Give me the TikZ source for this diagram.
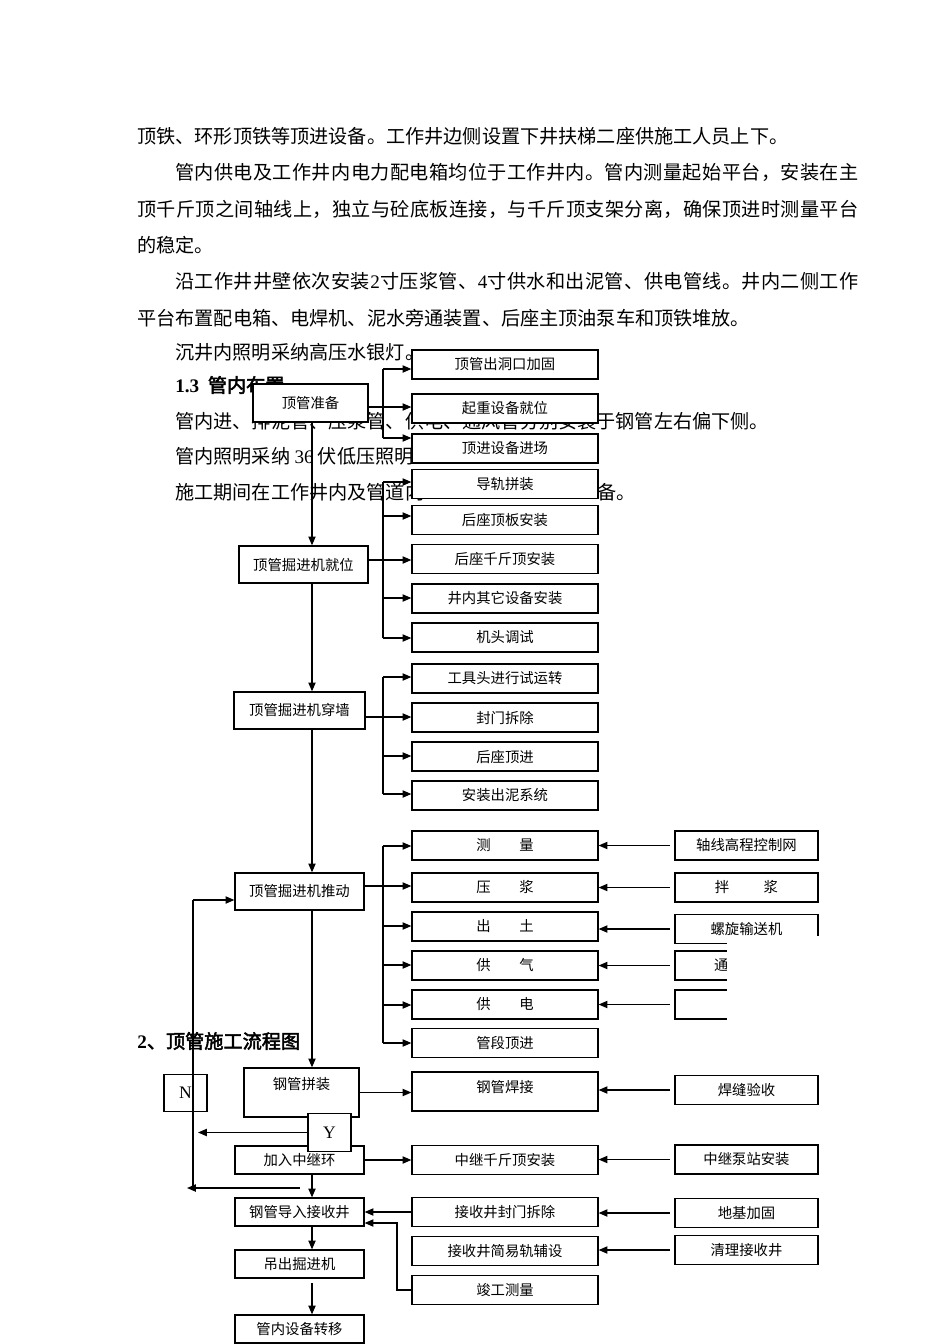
\documentclass[tikz,border=0pt]{standalone}
\usepackage{fontspec}
\setmainfont{Noto Sans CJK SC}[AutoFakeBold=2.5]
\newfontfamily\lat{Liberation Serif}
\usetikzlibrary{arrows.meta}
\newlength\pxu
\setlength\pxu{0.6266pt}
\makeatletter
\newcommand\spreadline[2]{\makebox[#1][s]{\@tfor\spch:=#2\do{{\spch}\hskip 0pt plus 1pt}\unskip}}
\makeatother

\begin{document}
\begin{tikzpicture}[
  x=0.6266pt, y=-0.6266pt,
  para/.style={anchor=west, inner sep=0pt, font=\fontsize{12}{14}\selectfont},
  head/.style={para, font=\fontsize{12}{14}\selectfont\bfseries},
  box/.style={draw, fill=white, line width=0.8pt, inner sep=1pt, font=\fontsize{9}{11}\selectfont},
  mid/.style={box, minimum width=116.5pt, minimum height=18.2pt},
  side/.style={box, minimum width=89.6pt, minimum height=18.2pt},
  main/.style={box, minimum width=80.8pt, minimum height=23.2pt},
  low/.style={box, minimum width=80.8pt, minimum height=17.5pt},
  yn/.style={box, font=\lat\fontsize{11}{13}\selectfont, minimum width=26.9pt, minimum height=23.5pt},
  link/.style={line width=0.8pt},
  arr/.style={link, -{Triangle[length=5.5pt,width=4.5pt]}}
]
\fill[white] (0,0) rectangle (950,1344);
\useasboundingbox (0,0) rectangle (950,1344);

\node[para] (t1) at (137,136) {顶铁、环形顶铁等顶进设备。工作井边侧设置下井扶梯二座供施工人员上下。};
\node[para] (t2) at (175,172) {\spreadline{683\pxu}{管内供电及工作井内电力配电箱均位于工作井内。管内测量起始平台，安装在主}};
\node[para] (t3) at (137,209) {\spreadline{721\pxu}{顶千斤顶之间轴线上，独立与砼底板连接，与千斤顶支架分离，确保顶进时测量平台}};
\node[para] (t4) at (137,245) {的稳定。};
\node[para] (t5) at (175,281) {\spreadline{683\pxu}{沿工作井井壁依次安装{\lat 2}寸压浆管、{\lat 4}寸供水和出泥管、供电管线。井内二侧工作}};
\node[para] (t6) at (137,318) {平台布置配电箱、电焊机、泥水旁通装置、后座主顶油泵车和顶铁堆放。};
\node[para] (t7) at (175,352) {沉井内照明采纳高压水银灯。};
\node[head] (t8) at (175,385) {{\lat 1.3}\hspace{0.45em}管内布置};
\node[para] (t9) at (175,421) {管内进、排泥管、压浆管、供电、通风管分别安装于钢管左右偏下侧。};
\node[para] (t10) at (175,456) {管内照明采纳 {\lat 36} 伏低压照明};
\node[para] (t11) at (175,492) {施工期间在工作井内及管道内};
\node[para] (t12) at (597,492) {备。};
\node[head] (t13) at (137,1041) {{\lat 2}、顶管施工流程图};

\node[main, minimum width=72.1pt, minimum height=23.8pt] (l1) at (310.5,403) {顶管准备};
\node[main] (l2) at (303.5,564.5) {顶管掘进机就位};
\node[main, minimum width=82.1pt] (l3) at (299.5,710.5) {顶管掘进机穿墙};
\node[main] (l4) at (299.5,891.5) {顶管掘进机推动};
\node[main, minimum width=72.1pt, minimum height=30.7pt, text depth=11pt] (l5) at (301.5,1092.5) {钢管拼装};
\node[low] (l6) at (299.5,1160) {加入中继环};
\node[low] (l7) at (299.5,1212) {钢管导入接收井};
\node[low] (l8) at (299.5,1264) {吊出掘进机};
\node[low] (l9) at (299.5,1329) {管内设备转移};
\node[yn] (no) at (185.5,1093) {N};
\node[yn] (yes) at (329.5,1132.5) {Y};

\node[mid] (m1) at (505,364.5) {顶管出洞口加固};
\node[mid] (m2) at (505,408.5) {起重设备就位};
\node[mid] (m3) at (505,448.5) {顶进设备进场};
\node[mid] (m4) at (505,484) {导轨拼装};
\node[mid] (m5) at (505,520) {后座顶板安装};
\node[mid] (m6) at (505,559) {后座千斤顶安装};
\node[mid] (m7) at (505,598.5) {井内其它设备安装};
\node[mid] (m8) at (505,637.5) {机头调试};
\node[mid] (m9) at (505,678.5) {工具头进行试运转};
\node[mid] (m10) at (505,717.5) {封门拆除};
\node[mid] (m11) at (505,756.5) {后座顶进};
\node[mid] (m12) at (505,795.5) {安装出泥系统};
\node[mid] (m13) at (505,845.5) {测\hspace{2em}量};
\node[mid] (m14) at (505,887.5) {压\hspace{2em}浆};
\node[mid] (m15) at (505,926.5) {出\hspace{2em}土};
\node[mid] (m16) at (505,965.5) {供\hspace{2em}气};
\node[mid] (m17) at (505,1004.5) {供\hspace{2em}电};
\node[mid] (m18) at (505,1043) {管段顶进};
\node[mid, minimum height=24.4pt, text depth=6pt] (m19) at (505,1091.5) {钢管焊接};
\node[mid] (m20) at (505,1160) {中继千斤顶安装};
\node[mid] (m21) at (505,1212) {接收井封门拆除};
\node[mid] (m22) at (505,1251) {接收井简易轨辅设};
\node[mid] (m23) at (505,1290) {竣工测量};

\node[side] (r1) at (746.5,845.5) {轴线高程控制网};
\node[side] (r2) at (746.5,887.5) {拌\hspace{2.4em}浆};
\node[side] (r3) at (746.5,929) {螺旋输送机};
\node[side] (r4) at (746.5,965.5) {\makebox[4.5em][l]{通}};
\node[side] (r5) at (746.5,1004.5) {};
\node[side] (r6) at (746.5,1090) {焊缝验收};
\node[side] (r7) at (746.5,1159.5) {中继泵站安装};
\node[side] (r8) at (746.5,1213) {地基加固};
\node[side] (r9) at (746.5,1250) {清理接收井};

\coordinate (sp) at (312,0);
\foreach \a/\b in {l1/l2, l2/l3, l3/l4, l4/l5, l6/l7, l7/l8}
  \draw[arr] (\a.south -| sp) -- (\b.north -| sp);
\draw[arr, shorten <=3pt] (l8.south -| sp) -- (l9.north -| sp);

\draw[link] (l1.east |- 0,407) -- (383,407);
\draw[link] (383,369) -- (383,438);
\foreach \n/\y in {m1/369, m2/407, m3/438}
  \draw[arr] (383,\y) -- (\n.west |- 0,\y);

\draw[link] (l2.east |- 0,560) -- (383,560);
\draw[link] (383,482) -- (383,638);
\foreach \n/\y in {m4/482, m5/516, m6/560, m7/598, m8/638}
  \draw[arr] (383,\y) -- (\n.west |- 0,\y);

\draw[link] (l3.east |- 0,717) -- (383,717);
\draw[link] (383,677) -- (383,794);
\foreach \n/\y in {m9/677, m10/717, m11/756, m12/794}
  \draw[arr] (383,\y) -- (\n.west |- 0,\y);

\draw[link] (l4.east |- 0,886) -- (383,886);
\draw[link] (383,846) -- (383,1043);
\foreach \n/\y in {m13/846, m14/886, m15/926, m16/965, m17/1005, m18/1043}
  \draw[arr] (383,\y) -- (\n.west |- 0,\y);

\foreach \r/\m in {r1/m13, r2/m14, r3/m15, r4/m16, r5/m17, r6/m19, r7/m20, r8/m21, r9/m22}
  \draw[arr, shorten <=3pt] (\r.west) -- (\r.west -| \m.east);

\draw[arr] (l5.east) -- (l5.east -| m19.west);
\draw[arr] (l6.east) -- (l6.east -| m20.west);
\draw[arr] (m21.west) -- (m21.west -| l7.east);
\draw[arr] (m23.west) -| (397,1223) -- (l7.east |- 0,1223);

\draw[arr] (193,900) -- (l4.west |- 0,900);
\draw[link] (193,900) -- (193,1188);
\draw[arr] (300,1188) -- (187,1188);
\draw[arr] (yes.west) -- (yes.west -| 198,0);

\fill[white] (727,936) rectangle (832,1023);
\end{tikzpicture}
\end{document}
